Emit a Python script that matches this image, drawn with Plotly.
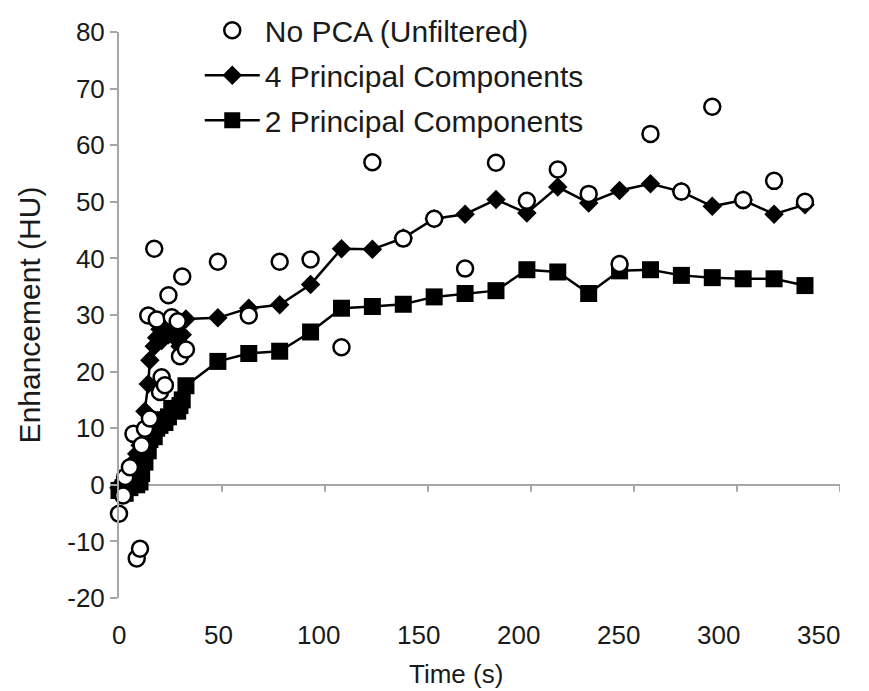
import plotly.graph_objects as go

# ---- data ----
time_s = [0, 2, 3, 5.3, 7, 8.6, 10.2, 11, 12.6, 14.2, 15, 17.1, 18.3, 19.9, 20.7, 22.3,
          24, 25.6, 28.5, 29.6, 30.7, 32.5,
          48, 63, 78, 93, 108, 123, 138, 153, 168, 183, 198, 213, 228, 243, 258,
          273, 288, 303, 318, 333]

no_pca = [-5.1, -1.9, 1.4, 3.1, 9.0, -13.0, -11.3, 7.0, 9.9, 29.9, 11.7, 41.7, 29.2, 16.4,
          19.0, 17.6, 33.5, 29.6, 28.9, 22.7, 36.8, 23.9,
          39.4, 29.9, 39.4, 39.8, 24.3, 57.0, 43.5, 47.0, 38.2, 56.9, 50.2, 55.7, 51.4,
          39.0, 62.0, 51.8, 66.8, 50.3, 53.7, 50.0]

pc4 = [-0.5, 0.5, 1.0, 2.5, 4.0, 5.5, 7.0, 9.0, 13.0, 17.8, 22.0, 24.5, 26.0, 27.5,
       25.5, 27.0, 26.5, 27.5, 25.5, 24.5, 26.5, 29.3,
       29.5, 31.2, 31.8, 35.4, 41.7, 41.6, 43.6, 47.0, 47.8, 50.4, 48.0, 52.6, 49.8,
       52.0, 53.2, 51.8, 49.2, 50.3, 47.8, 49.5]

pc2 = [-1.0, -0.5, -1.5, -0.5, 0.5, 0.0, 0.5, 2.0, 4.0, 6.0, 8.0, 8.5, 10.0, 10.5,
       11.5, 11.0, 12.0, 13.5, 13.0, 14.0, 15.0, 17.5,
       21.8, 23.2, 23.6, 27.0, 31.2, 31.5, 31.9, 33.2, 33.8, 34.3, 38.0, 37.6, 33.8,
       37.8, 38.0, 37.0, 36.6, 36.4, 36.4, 35.2]

x_ticks = [0, 50, 100, 150, 200, 250, 300, 350]
x_tick_labels = ["0", "50", "100", "150", "200", "250", "300", "350"]
y_ticks = [-20, -10, 0, 10, 20, 30, 40, 50, 60, 70, 80]
y_tick_labels = ["-20", "-10", "0", "10", "20", "30", "40", "50", "60", "70", "80"]

FONT = "Liberation Sans, Arial, sans-serif"
AXIS_GREY = "#A6A6A6"
TXT = "#1a1a1a"
LABEL_SPAN = 0.9695   # tick labels in the reference sit on a slightly narrower span

fig = go.Figure()

fig.add_trace(go.Scatter(
    x=time_s, y=pc2, mode="lines+markers", name="2 Principal Components",
    line=dict(color="black", width=2.5),
    marker=dict(symbol="square", size=17, color="black"),
    cliponaxis=False, legendrank=3, legendgroup="c"))

fig.add_trace(go.Scatter(
    x=time_s, y=pc4, mode="lines+markers", name="4 Principal Components",
    line=dict(color="black", width=2.5),
    marker=dict(symbol="diamond", size=15, color="black"),
    cliponaxis=False, legendrank=2, legendgroup="b"))

fig.add_trace(go.Scatter(
    x=time_s, y=no_pca, mode="markers", name="No PCA (Unfiltered)",
    marker=dict(symbol="circle", size=16, color="white",
                line=dict(color="black", width=2.5)),
    cliponaxis=False, legendrank=1, legendgroup="a"))

# x-axis tick marks drawn on the y=0 line (the axis crosses at zero)
for xv in x_ticks:
    fig.add_shape(type="line", xref="x", yref="y", x0=xv, x1=xv,
                  ysizemode="pixel", yanchor=0, y0=0, y1=-7,
                  line=dict(color=AXIS_GREY, width=2), layer="below")

# x tick labels
for xv, lab in zip(x_ticks, x_tick_labels):
    fig.add_annotation(text=lab, xref="paper", yref="paper",
                       x=xv / x_ticks[-1] * LABEL_SPAN, y=0, yshift=-37,
                       xanchor="center", yanchor="middle", showarrow=False,
                       font=dict(size=26, color=TXT))

fig.add_annotation(text="Time (s)", xref="paper", yref="paper",
                   x=0.5 * LABEL_SPAN - 0.018, y=0, yshift=-76,
                   xanchor="center", yanchor="middle", showarrow=False,
                   font=dict(size=26, color=TXT))

fig.update_layout(
    width=869, height=691,
    margin=dict(l=119, r=29, t=32, b=93, autoexpand=False),
    paper_bgcolor="white", plot_bgcolor="white",
    font=dict(family=FONT, size=26, color=TXT),
    showlegend=True,
    legend=dict(x=0.112, y=1.049, xanchor="left", yanchor="top",
                bgcolor="rgba(0,0,0,0)", font=dict(size=30, color=TXT),
                tracegroupgap=3, itemwidth=55),
    xaxis=dict(range=[0, 350], tickvals=x_ticks, showgrid=False, zeroline=False,
               showline=False, ticks="", showticklabels=False),
    yaxis=dict(range=[-20, 80], tickvals=y_ticks, ticktext=y_tick_labels,
               showgrid=False,
               zeroline=True, zerolinecolor=AXIS_GREY, zerolinewidth=2,
               showline=True, linecolor=AXIS_GREY, linewidth=2,
               ticks="outside", ticklen=7, tickcolor=AXIS_GREY, tickwidth=2,
               title=dict(text="Enhancement (HU)", standoff=18, font=dict(size=30)),
               tickfont=dict(size=26)),
)

fig.write_html("out.html")
